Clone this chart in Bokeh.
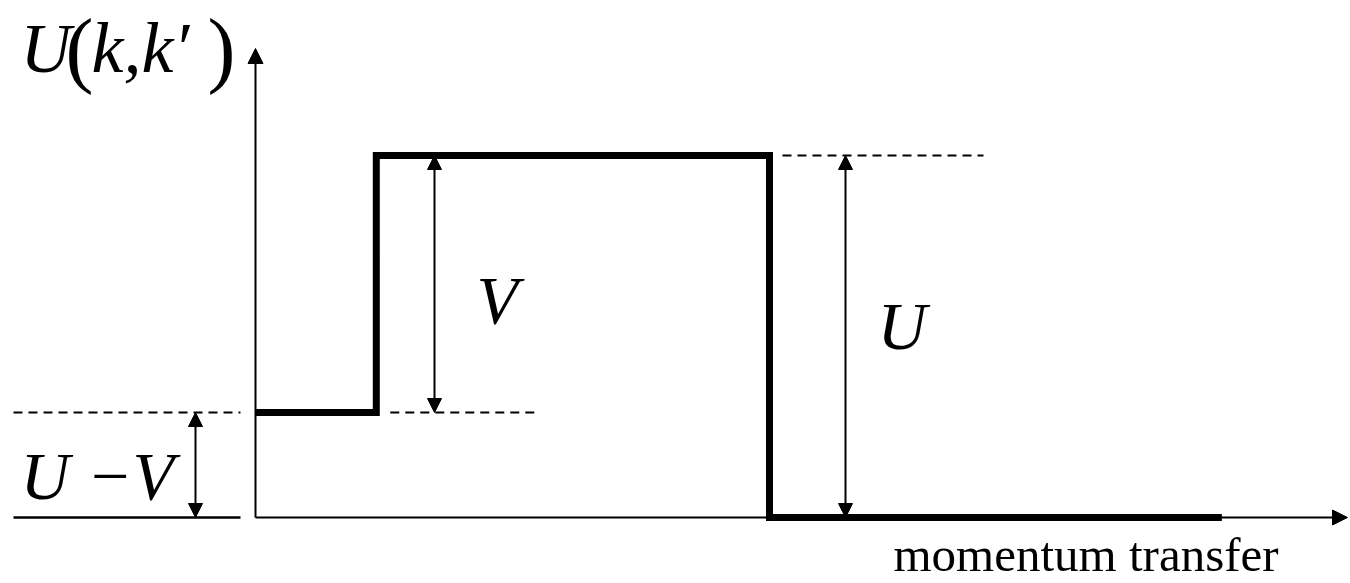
from bokeh.plotting import figure
from bokeh.models import Range1d, Arrow, NormalHead
from bokeh.core.properties import value
from bokeh.embed import file_html
from bokeh.resources import INLINE

# Step potential U(k, k') versus momentum transfer (potential in units of U)
U = 1.0
V = 0.71
k_steps = [0.0, 0.235, 1.0, 1.88]      # breakpoints in momentum transfer
step_levels = [U - V, U, 0.0]          # potential on each interval

label_lhs = ["U", "k,k\u2032"]
label_diff = "U \u2212V"
label_V = "V"
label_U = "U"
x_title = "momentum transfer"

W, H = 1350, 583
X0_PX, Y0_PX = 255, 517    # screen position of the origin
SX, SY = 514, 362          # pixels per unit along x and y


def px_x(px):
    return (px - X0_PX) / SX


def px_y(px):
    return (Y0_PX - px) / SY


p = figure(width=W, height=H,
           x_range=Range1d(px_x(0), px_x(W)),
           y_range=Range1d(px_y(H), px_y(0)),
           x_axis_location=None, y_axis_location=None,
           output_backend="svg", toolbar_location=None, min_border=0)
p.grid.visible = False
p.outline_line_color = None
p.background_fill_color = "white"
p.border_fill_color = "white"

# coordinate axes with arrow heads
p.add_layout(Arrow(end=NormalHead(size=15, fill_color="black", line_color="black"),
                   x_start=0, y_start=0, x_end=0, y_end=px_y(48),
                   line_width=2, line_color="black"))
p.add_layout(Arrow(end=NormalHead(size=15, fill_color="black", line_color="black"),
                   x_start=0, y_start=0, x_end=px_x(1347), y_end=0,
                   line_width=2, line_color="black"))

# zero reference to the left of the vertical axis
p.segment(x0=[px_x(13)], y0=[0.0], x1=[px_x(240)], y1=[0.0],
          line_width=2.5, line_color="black")

# dashed guides at the two non-zero levels
p.segment(x0=[px_x(13), k_steps[1] + px_x(390) - px_x(376), k_steps[2] + px_x(782) - px_x(769)],
          y0=[U - V, U - V, U],
          x1=[px_x(240), k_steps[1] + px_x(540) - px_x(376), k_steps[2] + px_x(983) - px_x(769)],
          y1=[U - V, U - V, U],
          line_width=2, line_color="black", line_dash="9 6")

# the step potential itself
xs, ys = [], []
for i, lvl in enumerate(step_levels):
    xs += [k_steps[i], k_steps[i + 1]]
    ys += [lvl, lvl]
p.line(xs, ys, line_width=7, line_color="black", line_join="miter")


# double-headed dimension arrows
def dim_arrow(x, y0, y1):
    p.add_layout(Arrow(start=NormalHead(size=14, fill_color="black", line_color="black"),
                       end=NormalHead(size=14, fill_color="black", line_color="black"),
                       x_start=x, y_start=y0, x_end=x, y_end=y1,
                       line_width=2, line_color="black"))


dim_arrow(px_x(195), 0.0, U - V)
dim_arrow(px_x(434), U - V, U)
dim_arrow(px_x(845), 0.0, U)

SERIF = "Liberation Serif"


def label(x_px, base_px, txt, size, style="italic"):
    # the svg text is placed about a third of an em below the requested
    # alphabetic baseline, so lift it by that amount
    y = px_y(base_px - 0.3375 * size)
    p.text(x=[px_x(x_px)], y=[y], text=[txt], text_font=value(SERIF),
           text_font_style=style, text_font_size=f"{size}px",
           text_baseline="alphabetic", text_align="left", text_color="black")


label(20, 72, label_lhs[0], 70)
label(65, 76, "(", 84, "normal")
label(91, 72, label_lhs[1], 72)
label(207, 76, ")", 84, "normal")
label(20, 498, label_diff, 68)
label(476, 322, label_V, 68)
label(877, 348, label_U, 68)
label(893, 571, x_title, 49, "normal")

open("out.html", "w").write(file_html(p, INLINE))
